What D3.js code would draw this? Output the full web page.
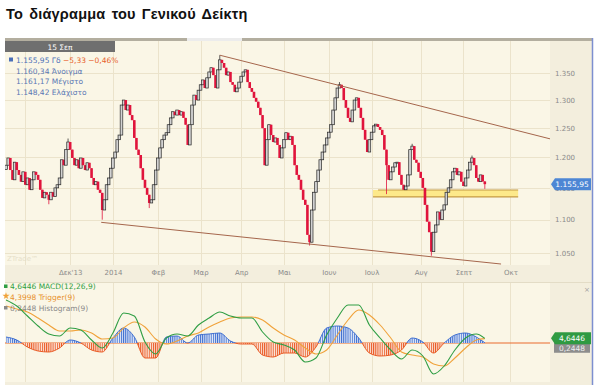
<!DOCTYPE html>
<html>
<head>
<meta charset="utf-8">
<script src="https://cdn.jsdelivr.net/npm/d3@7"></script>
<style>
  body { margin: 0; background: #fff; }
  svg text { font-family: "DejaVu Sans", Verdana, sans-serif; }
</style>
</head>
<body>
<script>
"use strict";

// trading calendar (Athens exchange)
const firstDay = new Date(2013, 9, 18);
const holidays = ["2013-10-28", "2013-12-25", "2013-12-26", "2014-01-01", "2014-01-06",
  "2014-03-03", "2014-03-25", "2014-04-18", "2014-04-21", "2014-05-01", "2014-06-09",
  "2014-08-15", "2014-10-28"];

// daily closes of the index (open = previous close)
const firstOpen = 1180;
const closes = [
  1187, 1199, 1179, 1163, 1192, 1179, 1171, 1160, 1176, 1155,
  1166, 1147, 1163, 1176, 1171, 1163, 1147, 1134, 1143, 1139,
  1131, 1143, 1136, 1150, 1155, 1166, 1196, 1187, 1213, 1226,
  1213, 1199, 1187, 1196, 1182, 1199, 1187, 1179, 1191, 1182,
  1166, 1155, 1160, 1147, 1142, 1115, 1131, 1155, 1166, 1182,
  1199, 1209, 1230, 1238, 1291, 1300, 1282, 1291, 1273, 1264,
  1233, 1213, 1204, 1182, 1163, 1150, 1139, 1126, 1131, 1155,
  1179, 1199, 1216, 1230, 1238, 1242, 1256, 1268, 1279, 1273,
  1282, 1273, 1279, 1268, 1256, 1221, 1256, 1291, 1309, 1300,
  1318, 1328, 1337, 1322, 1341, 1352, 1360, 1346, 1322, 1356,
  1375, 1369, 1360, 1346, 1352, 1333, 1328, 1315, 1322, 1333,
  1344, 1352, 1356, 1333, 1322, 1315, 1304, 1297, 1286, 1273,
  1250, 1187, 1230, 1256, 1238, 1226, 1233, 1221, 1199, 1216,
  1230, 1242, 1230, 1236, 1221, 1187, 1171, 1163, 1147, 1131,
  1123, 1077, 1066, 1115, 1143, 1160, 1179, 1196, 1209, 1221,
  1233, 1243, 1256, 1282, 1304, 1322, 1328, 1322, 1300, 1286,
  1268, 1261, 1282, 1300, 1304, 1286, 1268, 1247, 1230, 1209,
  1230, 1243, 1254, 1257, 1252, 1247, 1238, 1213, 1187, 1163,
  1176, 1184, 1191, 1192, 1171, 1155, 1147, 1153, 1171, 1213,
  1219, 1196, 1191, 1176, 1166, 1150, 1123, 1097, 1081, 1052,
  1081, 1092, 1112, 1100, 1115, 1123, 1143, 1150, 1163, 1176,
  1182, 1171, 1176, 1160, 1153, 1166, 1179, 1192, 1199, 1187,
  1166, 1160, 1171, 1160.34, 1155.95
];
// visible wick tips [day index, value]
const wickHighs = [[29, 1232], [100, 1384], [156, 1333], [190, 1223], [218, 1203], [224, 1161.17]];
const wickLows = [[20, 1124], [45, 1100], [67, 1118], [142, 1061], [178, 1140], [199, 1046], [224, 1148.42]];

const monthLabels = ["", "Δεκ'13", "2014", "Φεβ", "Μαρ", "Απρ", "Μαι", "Ιουν", "Ιουλ", "Αυγ", "Σεπτ", "Οκτ"];
const priceTicks = [1050, 1100, 1150, 1200, 1250, 1300, 1350];

// drawn annotations [day index, value]
const upperTrend = [[100, 1384], [255, 1231]];
const lowerTrend = [[44.5, 1096], [231.6, 1034]];
const supportDays = [171.7, 239.6];
const supportVals = [1135.5, 1146.6];

// MACD panel, sampled every 5 sessions
const macdDays = d3.range(0, 225, 5).concat([224]);
const macdLine = [43, 37, 27, 17, 9, 7, 15, 13, 3, -5, 10, 30, 27, 1, -11, 5, 9, 7, 18, 25,
  31, 27, 25, 25, 11, 1, -2, -7, -19, -15, 8, 25, 38, 38, 18, 5, -7, -16, -7, -13,
  -31, -23, -7, 5, 9, 4.6446];
const triggerLine = [37, 34, 31, 25, 18, 12, 12, 13, 10, 4, 5, 15, 21, 16, 4, -1, 2, 7, 10, 16,
  21, 25, 26, 26, 23, 15, 8, 3, -5, -11, -7, 8, 23, 33, 28, 18, 5, -9, -12, -14,
  -21, -23, -15, -5, 3, 4.3998];
const histogram = [6, 3, -4, -8, -9, -5, 3, 0, -7, -9, 5, 15, 6, -15, -15, 6, 7, 0, 8, 9,
  10, 2, -1, -1, -12, -14, -10, -10, -14, -4, 15, 17, 15, 5, -10, -13, -12, -7, 5, 1,
  -10, 0, 8, 10, 6, 0.2448];

const quote = { close: 1155.95, change: -5.33, pct: -0.46, open: 1160.34, high: 1161.17, low: 1148.42 };

// ---------------------------------------------------------------
const gr = d3.formatLocale({ decimal: ",", thousands: ".", grouping: [3], currency: ["", "€"] });
const f0 = gr.format(",.0f"), f2 = gr.format(",.2f"), f4 = gr.format(".4f");

const W = 595, H = 385;
const pL = 5, pR = 550, pT = 41, pB = 265;
const mTop = 283, mBottom = 382;

// build trading days
const days = [];
const dayKey = d3.timeFormat("%Y-%m-%d");
for (let d = new Date(firstDay); days.length < 270; d.setDate(d.getDate() + 1)) {
  const wd = d.getDay();
  if (wd > 0 && wd < 6 && !holidays.includes(dayKey(d))) days.push(new Date(d));
}

const x = d3.scaleLinear().domain([-0.5, 254.5]).range([pL, pR]);
const y = d3.scaleLog().domain([1032.6, 1411.7]).range([pB, pT]);
const m = d3.scaleLinear().domain([-39, 60]).range([mBottom, mTop]);

const monthStarts = [];
days.forEach((d, i) => {
  if (i > 0 && d.getMonth() !== days[i - 1].getMonth() && i <= 254) monthStarts.push(i);
});

const svg = d3.select("body").append("svg").attr("width", W).attr("height", H);

svg.append("text").attr("x", 6).attr("y", 19)
  .style("font-family", "'Liberation Sans', Arial, sans-serif")
  .style("font-weight", "bold").style("font-size", "14.5px")
  .style("word-spacing", "2px").style("letter-spacing", "0.2px")
  .attr("fill", "#111").text("Το διάγραμμα του Γενικού Δείκτη");

// panels
svg.append("rect").attr("x", pL).attr("y", pT).attr("width", 587).attr("height", H - pT).attr("fill", "#f3eedd");
svg.append("rect").attr("x", pL).attr("y", pT).attr("width", pR - pL).attr("height", pB - pT).attr("fill", "#faf6e6");
svg.append("rect").attr("x", pL).attr("y", mTop).attr("width", pR - pL).attr("height", mBottom - mTop).attr("fill", "#faf6e6");
svg.append("line").attr("x1", pL).attr("x2", 592).attr("y1", mTop - 0.5).attr("y2", mTop - 0.5).attr("stroke", "#e3dcc6");
svg.append("rect").attr("x", pL).attr("y", 38).attr("width", 587).attr("height", 3).attr("fill", "#b3ae9f");
svg.append("rect").attr("x", 187).attr("y", 38).attr("width", 55).attr("height", 3).attr("fill", "#ececec");
svg.append("line").attr("x1", 592.5).attr("x2", 592.5).attr("y1", 38).attr("y2", H).attr("stroke", "#7d8fd0").attr("stroke-width", 1.5);

// grids
const grid = "#ebe3cb";
svg.append("g").selectAll("line").data(priceTicks).join("line")
  .attr("x1", pL).attr("x2", pR).attr("y1", d => Math.round(y(d)) + 0.5).attr("y2", d => Math.round(y(d)) + 0.5)
  .attr("stroke", grid);
[[pT, pB], [mTop, mBottom]].forEach(([a, b]) => {
  svg.append("g").selectAll("line").data(monthStarts).join("line")
    .attr("x1", d => Math.round(x(d)) + 0.5).attr("x2", d => Math.round(x(d)) + 0.5)
    .attr("y1", a).attr("y2", b).attr("stroke", grid);
});

svg.append("text").attr("x", 7).attr("y", 261).attr("fill", "#e6dfc9").style("font-size", "7px").text("ZTrade™");

// x axis labels
const xAxis = d3.axisBottom(x).tickValues(monthStarts).tickSize(0).tickPadding(0)
  .tickFormat((d, i) => monthLabels[i]);
const gx = svg.append("g").attr("transform", `translate(0,${pB + 5})`).call(xAxis);
gx.select(".domain").remove();
gx.selectAll("text").attr("fill", "#8a8a8a").style("font-size", "7px");

// right price axis
const yAxis = d3.axisRight(y).tickValues(priceTicks).tickSize(0).tickPadding(0).tickFormat(f0);
const gy = svg.append("g").attr("transform", `translate(${pR + 5},0)`).call(yAxis);
gy.select(".domain").remove();
gy.selectAll("text").attr("fill", "#8a8a8a").style("font-size", "7px");

// clip
svg.append("clipPath").attr("id", "clipMain").append("rect")
  .attr("x", pL).attr("y", pT).attr("width", pR - pL).attr("height", pB - pT);
svg.append("clipPath").attr("id", "clipUp").append("rect")
  .attr("x", pL).attr("y", mTop).attr("width", pR - pL).attr("height", m(0) - mTop);
svg.append("clipPath").attr("id", "clipDown").append("rect")
  .attr("x", pL).attr("y", m(0)).attr("width", pR - pL).attr("height", mBottom - m(0));
svg.append("clipPath").attr("id", "clipMacd").append("rect")
  .attr("x", pL).attr("y", mTop).attr("width", pR - pL).attr("height", mBottom - mTop);

const main = svg.append("g").attr("clip-path", "url(#clipMain)");

// support band
main.append("rect").attr("x", x(supportDays[0])).attr("width", x(supportDays[1]) - x(supportDays[0]))
  .attr("y", y(supportVals[1])).attr("height", y(supportVals[0]) - y(supportVals[1]))
  .attr("fill", "#fde98a");
supportVals.forEach(v => {
  main.append("line").attr("x1", x(supportDays[0]) + (v === supportVals[1] ? 5 : 0)).attr("x2", x(supportDays[1]))
    .attr("y1", y(v)).attr("y2", y(v)).attr("stroke", "#c49a45").attr("stroke-width", 1.2);
});

// candles
const wh = new Map(wickHighs), wl = new Map(wickLows);
const candles = closes.map((c, i) => {
  const o = i === 0 ? firstOpen : closes[i - 1];
  return { i, o, c, h: wh.get(i) || Math.max(o, c), l: wl.get(i) || Math.min(o, c) };
});
const cg = main.append("g");
candles.forEach(d => {
  const up = d.c >= d.o;
  const cx = x(d.i);
  cg.append("line").attr("x1", cx).attr("x2", cx).attr("y1", y(d.h)).attr("y2", y(d.l))
    .attr("stroke", up ? "#333" : "#e0143c").attr("stroke-width", 0.8);
  const y1 = y(Math.max(d.o, d.c)), y2 = y(Math.min(d.o, d.c));
  cg.append("rect").attr("x", cx - 1.3).attr("width", 2.6)
    .attr("y", y1).attr("height", Math.max(1, y2 - y1))
    .attr("fill", up ? "#d2d2d2" : "#e0143c")
    .attr("stroke", up ? "#2a2a2a" : "none").attr("stroke-width", 0.7);
});

// trend lines
[upperTrend, lowerTrend].forEach(t => {
  main.append("line").attr("x1", x(t[0][0])).attr("y1", y(t[0][1]))
    .attr("x2", x(t[1][0])).attr("y2", y(t[1][1]))
    .attr("stroke", "#a5664c").attr("stroke-width", 1);
});

// top date tag and legend
svg.append("rect").attr("x", pL).attr("y", 41).attr("width", 110).attr("height", 11).attr("fill", "#6f6f6f");
svg.append("text").attr("x", 60).attr("y", 49.5).attr("text-anchor", "middle").attr("fill", "#fff")
  .style("font-size", "7.5px").text("15 Σεπ");

const lg = svg.append("g").style("font-size", "7.5px");
lg.append("rect").attr("x", 9).attr("y", 57.5).attr("width", 4).attr("height", 4).attr("fill", "#4a6fb8");
const t1 = lg.append("text").attr("x", 16).attr("y", 62.5);
t1.append("tspan").attr("fill", "#4a6fb8").text(f2(quote.close) + " Γδ ");
t1.append("tspan").attr("fill", "#e8612c").text(f2(quote.change) + " " + f2(quote.pct) + "%");
[[quote.open, "Άνοιγμα"], [quote.high, "Μέγιστο"], [quote.low, "Ελάχιστο"]].forEach((r, k) => {
  lg.append("text").attr("x", 16).attr("y", 73.5 + k * 10.8).attr("fill", "#5a78b5").text(f2(r[0]) + " " + r[1]);
});

// price tag
const py = y(quote.close);
svg.append("path").attr("d", `M551,${py} L555,${py - 6} L591,${py - 6} L591,${py + 6} L555,${py + 6} Z`).attr("fill", "#4d86d4");
svg.append("text").attr("x", 572).attr("y", py + 3).attr("text-anchor", "middle").attr("fill", "#fff")
  .style("font-size", "7.5px").text(f2(quote.close));

// ---------------- MACD panel
const defs = svg.append("defs");
[["hBlue", "#3f6fd0", "#e3eaf8"], ["hOrange", "#ea5a24", "#fbe6da"]].forEach(([id, c, bg]) => {
  const p = defs.append("pattern").attr("id", id).attr("patternUnits", "userSpaceOnUse")
    .attr("x", x(0) - 0.5).attr("width", x(1) - x(0)).attr("height", 10);
  p.append("rect").attr("width", x(1) - x(0)).attr("height", 10).attr("fill", bg);
  p.append("rect").attr("width", 1).attr("height", 10).attr("fill", c);
});

const hist = macdDays.map((d, k) => ({ d, v: histogram[k] }));
const area = d3.area().curve(d3.curveMonotoneX).x(d => x(d.d)).y0(m(0)).y1(d => m(d.v));
const hline = d3.line().curve(d3.curveMonotoneX).x(d => x(d.d)).y(d => m(d.v));

svg.append("line").attr("x1", pL).attr("x2", pR).attr("y1", m(0)).attr("y2", m(0))
  .attr("stroke", "#ea6a2c").attr("stroke-width", 1);
[["clipUp", "hBlue", "#3f6fd0"], ["clipDown", "hOrange", "#ea5a24"]].forEach(([cl, pat, c]) => {
  const g = svg.append("g").attr("clip-path", `url(#${cl})`);
  g.append("path").datum(hist).attr("d", area).attr("fill", `url(#${pat})`);
  g.append("path").datum(hist).attr("d", hline).attr("fill", "none").attr("stroke", c).attr("stroke-width", 1);
});

const mg = svg.append("g").attr("clip-path", "url(#clipMacd)");
[[triggerLine, "#f0a23a"], [macdLine, "#2f9e44"]].forEach(([vals, c]) => {
  mg.append("path").datum(macdDays.map((d, k) => ({ d, v: vals[k] })))
    .attr("d", hline).attr("fill", "none").attr("stroke", c).attr("stroke-width", 1.1);
});

// MACD legend
const ml = svg.append("g").style("font-size", "7.5px");
const lastK = macdDays.length - 1;
ml.append("rect").attr("x", 4).attr("y", 284.5).attr("width", 3.5).attr("height", 3.5).attr("fill", "#2f9e44");
ml.append("text").attr("x", 10).attr("y", 289).attr("fill", "#2f9e44").text(f4(macdLine[lastK]) + " MACD(12,26,9)");
ml.append("path").attr("d", d3.symbol(d3.symbolStar, 16)()).attr("transform", "translate(6,296)").attr("fill", "#f0a23a");
ml.append("text").attr("x", 10).attr("y", 299.5).attr("fill", "#e8912c").text(f4(triggerLine[lastK]) + " Trigger(9)");
ml.append("rect").attr("x", 4).attr("y", 306).attr("width", 3.5).attr("height", 3.5).attr("fill", "#8a8a8a");
ml.append("text").attr("x", 10).attr("y", 310.5).attr("fill", "#8a8a8a").text(f4(histogram[lastK]) + " Histogram(9)");

// MACD tags
const hy = m(histogram[lastK]) + 4, gy2 = m(macdLine[lastK]);
svg.append("rect").attr("x", 554).attr("y", hy - 4).attr("width", 36).attr("height", 10).attr("fill", "#8d8d8d");
svg.append("text").attr("x", 572).attr("y", hy + 4).attr("text-anchor", "middle").attr("fill", "#eee")
  .style("font-size", "7.5px").text(f4(histogram[lastK]));
svg.append("path").attr("d", `M551,${gy2} L555,${gy2 - 6} L591,${gy2 - 6} L591,${gy2 + 6} L555,${gy2 + 6} Z`).attr("fill", "#2f9a42");
svg.append("text").attr("x", 572).attr("y", gy2 + 3).attr("text-anchor", "middle").attr("fill", "#fff")
  .style("font-size", "7.5px").text(f4(macdLine[lastK]));

svg.append("text").attr("x", 587).attr("y", 292).attr("text-anchor", "middle").attr("fill", "#a0a0a0")
  .style("font-size", "7px").text("×");
</script>
</body>
</html>
